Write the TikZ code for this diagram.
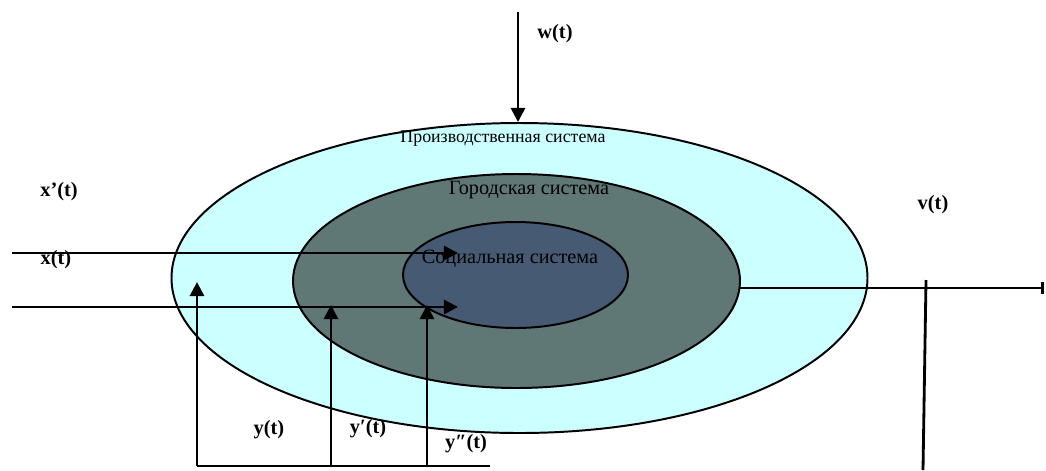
\documentclass[tikz,border=0pt]{standalone}
\usepackage{fontspec}
\setmainfont{Liberation Serif}
\usetikzlibrary{arrows.meta}
\definecolor{prodfill}{RGB}{204,255,255}
\definecolor{cityfill}{RGB}{95,119,117}
\definecolor{socfill}{RGB}{71,90,115}
\tikzset{
  sysline/.style={draw=black,line width=1.4pt},
  flow/.style={line width=2pt,-{Triangle[length=10pt,width=10pt]}},
  plain/.style={line width=2pt},
  lbl/.style={font=\fontsize{14.5}{16}\selectfont\bfseries,inner sep=0pt},
  sysname/.style={font=\fontsize{14.4}{16}\selectfont,inner sep=0pt}
}
\begin{document}
\begin{tikzpicture}[x=0.025cm,y=-0.025cm]
    \useasboundingbox (0,0) rectangle (1046,470);
    % the three systems
    \coordinate (O1) at (519.5,278);
    \coordinate (O2) at (516.5,281);
    \coordinate (O3) at (515.5,275);
    \draw[sysline,fill=prodfill] (O1) ellipse [x radius=348,y radius=155];
    \draw[sysline,fill=cityfill] (O2) ellipse [x radius=223.5,y radius=107];
    \draw[sysline,fill=socfill] (O3) ellipse [x radius=112.5,y radius=53];
    \node[sysname,font=\fontsize{12.7}{14}\selectfont] (prod) at (503,139) {Производственная система};
    \node[sysname] (city) at (529,190) {Городская система};
    \node[sysname] (soc) at (510,259) {Социальная система};
    % inputs
    \coordinate (W0) at (518,12);
    \coordinate (W1) at (518,122);
    \coordinate (X0) at (12,253);
    \coordinate (X1) at (458,253);
    \coordinate (Z0) at (12,307);
    \coordinate (Z1) at (458,307);
    \draw[flow] (W0)--(W1);
    \draw[flow] (X0)--(X1);
    \draw[flow] (Z0)--(Z1);
    % outputs
    \coordinate (B1) at (197,466);
    \coordinate (B2) at (331,466);
    \coordinate (B3) at (427,466);
    \coordinate (B4) at (490,466);
    \draw[plain] (B1)--(B4);
    \draw[flow] (B1)--(197,282);
    \draw[flow] (B2)--(331,305);
    \draw[flow] (B3)--(427,305);
    \coordinate (V0) at (740,288);
    \coordinate (V1) at (1044,288);
    \draw[line width=2pt,-{Bar[width=9pt,line width=2pt]}] (V0)--(V1);
    \coordinate (T0) at (926,280);
    \coordinate (T1) at (923,470);
    \draw[plain] (T0)--(T1);
    % labels
    \node[lbl] (w) at (555,34) {w(t)};
    \node[lbl] (xp) at (59,192) {x’(t)};
    \node[lbl] (x) at (56,260) {x(t)};
    \node[lbl] (v) at (933,205) {v(t)};
    \node[lbl] (y) at (269,430) {y(t)};
    \node[lbl] (yp) at (368,429) {y′(t)};
    \node[lbl] (ypp) at (466,444) {y″(t)};
\end{tikzpicture}
\end{document}
